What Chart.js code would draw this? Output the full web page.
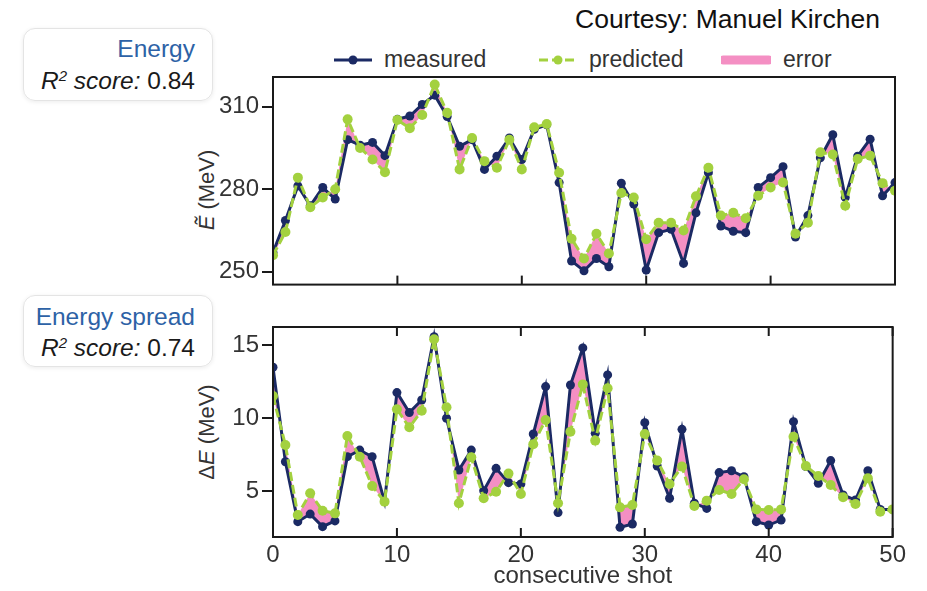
<!DOCTYPE html>
<html>
<head>
<meta charset="utf-8">
<script src="https://cdn.jsdelivr.net/npm/chart.js@4"></script>
<style>
  body { margin: 0; width: 927px; height: 591px; background: #fff; position: relative; overflow: hidden;
         font-family: "Liberation Sans", Arial, sans-serif; color: #2a2a2a; }
  .abs { position: absolute; }
  canvas { position: absolute; }
  #courtesy { left: 575px; top: 4px; font-size: 26.5px; color: #111; white-space: nowrap; }
  .box { position: absolute; left: 23px; width: 190px; border: 1px solid #e4e4e4; border-radius: 12px;
         box-shadow: 0 1px 4px rgba(0,0,0,0.08); box-sizing: border-box; text-align: right; padding-right: 17px; }
  .box .t { color: #2d62a6; font-size: 24.5px; line-height: 32px; }
  .box .r { color: #1a1a1a; font-size: 24.5px; line-height: 32px; }
  .box .r i { font-style: italic; }
  .box sup { font-size: 15px; vertical-align: 8px; line-height: 0; }
  .legend { position: absolute; top: 46px; font-size: 23px; color: #333; display: flex; align-items: center; white-space: nowrap; }
  .legend svg { margin-right: 12px; }
  .ytitle { position: absolute; width: 0; height: 0; }
  .ytitle span { position: absolute; white-space: nowrap; transform: translate(-50%, -50%) rotate(-90deg);
                 font-size: 22px; color: #333; }
</style>
</head>
<body>
<div id="courtesy" class="abs">Courtesy: Manuel Kirchen</div>

<div class="box" style="top:28px;height:73px;padding-top:4px;">
  <div class="t">Energy</div>
  <div class="r"><i>R<sup>2</sup> score:</i> 0.84</div>
</div>
<div class="box" style="top:295px;height:72px;padding-top:5px;">
  <div class="t">Energy spread</div>
  <div class="r" style="line-height:30px;"><i>R<sup>2</sup> score:</i> 0.74</div>
</div>

<div class="legend" style="left:334px;">
  <svg width="38" height="14"><line x1="0" y1="7" x2="38" y2="7" stroke="#1b2a64" stroke-width="3"/><circle cx="19" cy="7" r="4.5" fill="#1b2a64"/></svg>measured
</div>
<div class="legend" style="left:539px;">
  <svg width="38" height="14"><line x1="0" y1="7" x2="38" y2="7" stroke="#a3d13f" stroke-width="3" stroke-dasharray="9,4"/><circle cx="19" cy="7" r="4.5" fill="#a3d13f"/></svg>predicted
</div>
<div class="legend" style="left:721px;">
  <svg width="50" height="14"><line x1="2" y1="7" x2="48" y2="7" stroke="#f48fc3" stroke-width="9" stroke-linecap="round"/></svg>error
</div>

<div class="ytitle" style="left:207px;top:190px;"><span><i>Ẽ</i> (MeV)</span></div>
<div class="ytitle" style="left:207px;top:432px;"><span>Δ<i>E</i> (MeV)</span></div>

<canvas id="top" width="730" height="262" style="left:180px;top:40px;width:730px;height:262px;"></canvas>
<canvas id="bottom" width="730" height="291" style="left:180px;top:300px;width:730px;height:291px;"></canvas>

<script>
const energyMeasured = [257, 268.6, 281.2, 274, 280.6, 276.4, 298, 296, 297, 292.2,
  305.4, 306.6, 310.8, 314.2, 306.4, 295.6, 298, 287.2, 292, 298.6,
  290.8, 301.8, 303.4, 282.4, 253.9, 250.3, 254.8, 251.8, 282.2, 274.6,
  250.6, 264.2, 265.4, 253, 271.4, 286, 266.6, 264.7, 264.2, 280.6,
  284.2, 288.2, 262.6, 270.4, 291.4, 299.8, 277, 292, 298.2, 277.6, 282.4];
const energyPredicted = [256, 264.4, 284.2, 273.4, 277, 280, 305.4, 295, 290.8, 286.2,
  305.2, 302.2, 307, 318.1, 307.8, 287.2, 298.6, 290.2, 287.8, 298,
  287.2, 302.5, 303.7, 286, 262, 254.8, 263.8, 256.6, 278.6, 277,
  261.8, 267.8, 267.8, 265, 277.4, 287.8, 270.4, 271.4, 269.4, 277.6,
  280.6, 282.4, 263.8, 267.8, 293.4, 292.6, 274, 291, 292.2, 282.2, 279.4];
const spreadMeasured = [13.47, 7.0, 2.9, 3.42, 2.56, 2.95, 7.35, 7.8, 7.35, 4.27,
  11.74, 10.37, 11.23, 15.57, 9.98, 6.44, 7.8, 5.02, 6.55, 5.57,
  5.48, 8.9, 12.15, 3.52, 12.26, 14.8, 8.95, 12.95, 2.51, 2.74,
  9.68, 6.71, 4.5, 9.22, 4.16, 3.81, 6.26, 6.39, 5.98, 2.9,
  2.67, 3.01, 9.75, 6.67, 5.53, 7.08, 4.73, 4.38, 6.39, 3.74, 3.74];
const spreadPredicted = [11.5, 8.15, 3.36, 4.84, 3.65, 3.47, 8.77, 7.35, 5.34, 4.27,
  10.6, 9.36, 10.5, 15.39, 10.73, 4.16, 7.31, 4.5, 4.95, 6.2,
  4.8, 8.2, 9.86, 4.16, 9.06, 12.3, 8.45, 12.03, 3.88, 4.04,
  8.9, 7.08, 5.48, 6.67, 3.97, 4.34, 5.07, 4.8, 5.8, 3.74,
  3.7, 3.74, 8.72, 6.71, 6.03, 5.41, 4.57, 4.11, 5.87, 3.58, 3.74];
const shotTicks = [0, 10, 20, 30, 40, 50];
const energyTicks = [250, 280, 310];
const spreadTicks = [5, 10, 15];

const navy = "#1b2a64";
const green = "#a3d13f";
const pink = "#f48fc3";
const tickFont = { family: "'Liberation Sans', Arial, sans-serif", size: 24 };

// box around the plot and the inward x ticks
const framePlugin = {
  id: "frame",
  afterDatasetsDraw(chart, args, opts) {
    const { ctx, chartArea: a, scales } = chart;
    ctx.save();
    ctx.strokeStyle = "#1a1a1a";
    ctx.lineWidth = 2;
    ctx.strokeRect(a.left, a.top, a.right - a.left, a.bottom - a.top);
    shotTicks.forEach((v) => {
      const x = scales.x.getPixelForValue(v);
      ctx.beginPath();
      ctx.moveTo(x, a.bottom);
      ctx.lineTo(x, a.bottom - 9);
      if (opts.topTicks) {
        ctx.moveTo(x, a.top);
        ctx.lineTo(x, a.top + 9);
      }
      ctx.stroke();
    });
    ctx.restore();
  },
};

function toPoints(values) {
  return values.map((v, i) => ({ x: i, y: v }));
}

function makeChart(id, measured, predicted, yMin, yMax, yTicks, isBottom) {
  const ctx = document.getElementById(id).getContext("2d");
  return new Chart(ctx, {
    type: "line",
    data: {
      datasets: [
        {
          label: "measured",
          data: toPoints(measured),
          borderColor: navy,
          backgroundColor: navy,
          borderWidth: 3,
          pointRadius: 4.5,
          pointBorderWidth: 0,
          tension: 0,
          fill: false,
          order: 2,
        },
        {
          label: "predicted",
          data: toPoints(predicted),
          borderColor: green,
          backgroundColor: pink,
          pointBackgroundColor: green,
          borderWidth: 3,
          borderDash: [9, 4],
          pointRadius: 5,
          pointBorderWidth: 0,
          tension: 0,
          fill: { target: 0 },
          order: 1,
        },
      ],
    },
    options: {
      responsive: false,
      animation: false,
      layout: { padding: { top: isBottom ? 27 : 37, right: 15, left: 0, bottom: 0 } },
      plugins: {
        legend: { display: false },
        tooltip: { enabled: false },
        filler: { drawTime: "beforeDatasetsDraw" },
        frame: { topTicks: isBottom },
      },
      scales: {
        x: {
          type: "linear",
          min: 0,
          max: 50,
          afterBuildTicks: (scale) => {
            scale.ticks = shotTicks.map((v) => ({ value: v }));
          },
          afterFit: (scale) => {
            scale.height = isBottom ? 54 : 15;
          },
          grid: { display: false, drawTicks: false },
          border: { display: false },
          ticks: {
            display: isBottom,
            color: "#333",
            padding: 4,
            maxRotation: 0,
            font: tickFont,
          },
          title: {
            display: isBottom,
            text: "consecutive shot",
            color: "#333",
            padding: { top: 0, bottom: 0 },
            font: tickFont,
          },
        },
        y: {
          min: yMin,
          max: yMax,
          afterBuildTicks: (scale) => {
            scale.ticks = yTicks.map((v) => ({ value: v }));
          },
          afterFit: (scale) => {
            scale.width = 93;
          },
          grid: {
            drawOnChartArea: false,
            drawTicks: true,
            tickLength: 11,
            color: "#1a1a1a",
            lineWidth: 2,
          },
          border: { display: false },
          ticks: {
            color: "#333",
            padding: 3,
            font: tickFont,
          },
        },
      },
    },
    plugins: [framePlugin],
  });
}

makeChart("top", energyMeasured, energyPredicted, 245.3, 320.8, energyTicks, false);
makeChart("bottom", spreadMeasured, spreadPredicted, 1.85, 16.23, spreadTicks, true);
</script>
</body>
</html>
